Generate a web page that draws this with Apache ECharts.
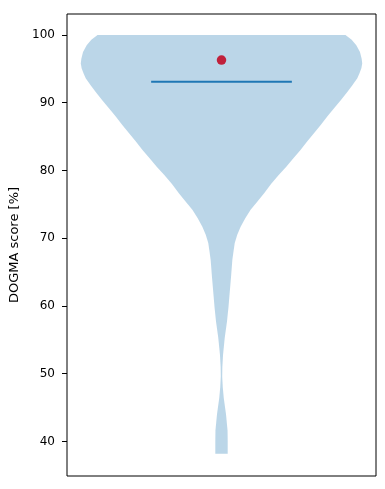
<!DOCTYPE html>
<html>
<head>
<meta charset="utf-8">
<script src="https://cdn.jsdelivr.net/npm/echarts@6/dist/echarts.min.js"></script>
<style>
html,body{margin:0;padding:0;background:#fff;}
#chart{width:385px;height:489px;}
</style>
</head>
<body>
<div id="chart"></div>
<script>
// Violin profile: score levels (%) and relative half-width (1 = widest point)
const scoreLevels = [100.0, 99.3, 98.5, 97.5, 96.5, 95.8, 95.1, 94.3, 93.6, 92.6, 91.6, 90.4, 89.2, 88.0, 86.7, 85.5, 84.3, 83.0, 81.8, 80.6, 79.3, 78.0, 76.65, 75.4, 74.2, 73.0, 71.7, 70.5, 69.3, 68.0, 66.8, 64.35, 61.9, 59.7, 57.7, 55.3, 52.8, 51.0, 49.6, 48.0, 46.4, 44.0, 41.6, 40.0, 38.2];
const violinDensity = [0.881, 0.925, 0.958, 0.984, 0.996, 1.000, 0.994, 0.980, 0.965, 0.930, 0.894, 0.849, 0.800, 0.753, 0.705, 0.657, 0.610, 0.560, 0.511, 0.462, 0.405, 0.352, 0.303, 0.254, 0.207, 0.170, 0.136, 0.112, 0.094, 0.085, 0.077, 0.068, 0.058, 0.049, 0.039, 0.023, 0.011, 0.006, 0.005, 0.009, 0.016, 0.032, 0.043, 0.044, 0.044];
const medianScore = 93.1;
const meanScore = 96.3;
const violinPosition = 1;
const yTicks = [40, 50, 60, 70, 80, 90, 100];

const maxHalfWidth = 0.4554; // in x-axis data units

const chart = echarts.init(document.getElementById('chart'), null, {renderer: 'canvas'});

const option = {
  animation: false,
  backgroundColor: '#fff',
  grid: {
    left: 67, top: 14, right: 9, bottom: 13,
    show: true, borderColor: '#000', borderWidth: 1, backgroundColor: 'transparent'
  },
  xAxis: {
    type: 'value', min: 0.5, max: 1.5,
    axisLine: {show: false}, axisTick: {show: false}, axisLabel: {show: false}, splitLine: {show: false}
  },
  yAxis: {
    type: 'value', min: 34.9, max: 103.1,
    name: 'DOGMA score [%]', nameLocation: 'middle', nameGap: 45, nameRotate: 90,
    nameTextStyle: {fontFamily: 'DejaVu Sans', fontSize: 13, color: '#000'},
    axisLine: {show: false},
    axisTick: {show: true, inside: false, length: 5, lineStyle: {color: '#000', width: 1}, customValues: yTicks},
    axisLabel: {fontFamily: 'DejaVu Sans', fontSize: 12, color: '#000', margin: 12, customValues: yTicks},
    splitLine: {show: false}
  },
  series: [
    {
      type: 'custom',
      data: [[violinPosition]],
      renderItem: function (params, api) {
        const cx = api.value(0);
        const left = [], right = [];
        for (let i = 0; i < scoreLevels.length; i++) {
          const w = violinDensity[i] * maxHalfWidth;
          left.push(api.coord([cx - w, scoreLevels[i]]));
          right.push(api.coord([cx + w, scoreLevels[i]]));
        }
        const pts = left.concat(right.reverse());
        const m1 = api.coord([cx - maxHalfWidth * 0.5, medianScore]);
        const m2 = api.coord([cx + maxHalfWidth * 0.5, medianScore]);
        return {
          type: 'group',
          children: [
            {type: 'polygon', shape: {points: pts, smooth: 0}, style: {fill: 'rgba(31,119,180,0.3)', stroke: 'none'}},
            {type: 'line', shape: {x1: m1[0], y1: m1[1], x2: m2[0], y2: m2[1]}, style: {stroke: '#1f77b4', lineWidth: 2}}
          ]
        };
      },
      z: 2
    },
    {
      type: 'scatter',
      data: [[violinPosition, meanScore]],
      symbolSize: 9.5,
      itemStyle: {color: '#c0213b', opacity: 1},
      z: 3
    }
  ]
};
chart.setOption(option);
</script>
</body>
</html>
